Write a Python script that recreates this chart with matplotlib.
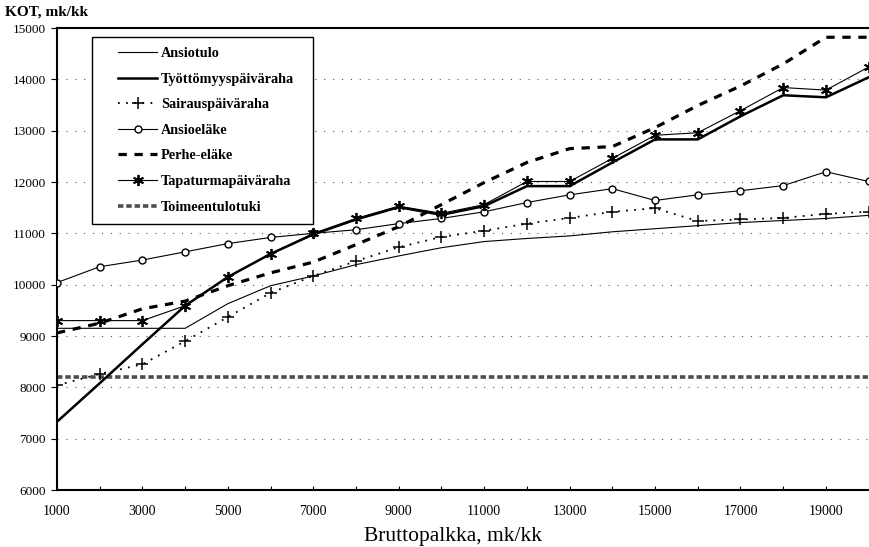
import matplotlib
matplotlib.use("Agg")
import matplotlib.pyplot as plt
from matplotlib.patches import Rectangle

plt.rcParams["font.family"] = ["Liberation Serif", "DejaVu Serif"]

# Gross monthly wage (mk/kk)
brutto = list(range(1000, 21000, 1000))

ansiotulo = [9150, 9150, 9150, 9150, 9630, 9980, 10170, 10390, 10560, 10720,
             10840, 10900, 10950, 11030, 11090, 11150, 11210, 11250, 11290, 11350]
tyottomyys = [7330, 8080, 8840, 9590, 10150, 10600, 10980, 11270, 11510, 11360,
              11530, 11920, 11920, 12380, 12830, 12830, 13280, 13690, 13650, 14040]
sairaus = [8040, 8260, 8450, 8900, 9370, 9840, 10170, 10460, 10730, 10930,
           11050, 11190, 11300, 11420, 11490, 11240, 11270, 11300, 11380, 11420]
ansioelake = [10040, 10350, 10480, 10640, 10800, 10920, 11000, 11070, 11190, 11290,
              11420, 11600, 11750, 11870, 11640, 11750, 11830, 11930, 12200, 12010]
perhe = [9060, 9250, 9530, 9680, 9980, 10230, 10440, 10780, 11130, 11560,
         11990, 12380, 12650, 12690, 13060, 13490, 13870, 14300, 14820, 14820]
tapaturma = [9300, 9300, 9300, 9590, 10150, 10600, 11000, 11290, 11530, 11390,
             11560, 12010, 12010, 12460, 12910, 12960, 13390, 13840, 13790, 14240]
toimeentulo = [8200] * 20

xticks = list(range(1000, 21000, 2000))
yticks = list(range(6000, 16000, 1000))

W, H = 869, 547
fig = plt.figure(figsize=(W / 100, H / 100), dpi=100)
ax = fig.add_axes([0.0656, 0.1042, 0.934, 0.8446])

ax.plot(brutto, toimeentulo, color="#4d4d4d", lw=2.6, ls=(0, (1.5, 0.8)), label="Toimeentulotuki", zorder=2)
ax.plot(brutto, ansiotulo, color="black", lw=0.8, label="Ansiotulo", zorder=3)
ax.plot(brutto, tyottomyys, color="black", lw=1.8, label="Työttömyyspäiväraha", zorder=3)
ax.plot(brutto, sairaus, color="black", lw=1.3, ls=(0, (1, 3.5)), marker="+", ms=8, mew=1.1,
        label="Sairauspäiväraha", zorder=4)
ax.plot(brutto, ansioelake, color="black", lw=0.8, marker="o", ms=5, mfc="white", mew=1.0,
        label="Ansioeläke", zorder=4)
ax.plot(brutto, perhe, color="black", lw=2.3, ls=(0, (2.6, 2.4)), label="Perhe-eläke", zorder=3)
ax.plot(brutto, tapaturma, color="black", lw=0.8, marker=(6, 2, 0), ms=8, mew=1.3,
        label="Tapaturmapäiväraha", zorder=4)

ax.set_xlim(1000, 20000)
ax.set_ylim(6000, 15000)
ax.set_xticks(list(range(1000, 21000, 1000)))
ax.set_xticklabels([str(v) if v in xticks else "" for v in range(1000, 21000, 1000)])
ax.set_yticks(yticks)
ax.tick_params(axis="x", direction="in", length=3, labelsize=10, pad=11)
ax.tick_params(axis="y", direction="out", length=4, labelsize=9.5, pad=4)

ax.yaxis.grid(True, color="#555555", lw=0.8, ls=(0, (1, 7)))
ax.set_axisbelow(True)

ax.spines["right"].set_visible(False)
for s in ["left", "bottom", "top"]:
    ax.spines[s].set_linewidth(1.5)

fig.text(453 / W, 1 - 537 / H, "Bruttopalkka, mk/kk", fontsize=15.5, ha="center", va="center")
fig.text(5 / W, 1 - 12 / H, "KOT, mk/kk", fontsize=11, fontweight="bold", va="center", ha="left")

order = ["Ansiotulo", "Työttömyyspäiväraha", "Sairauspäiväraha", "Ansioeläke",
         "Perhe-eläke", "Tapaturmapäiväraha", "Toimeentulotuki"]
handles, labels = ax.get_legend_handles_labels()
hmap = dict(zip(labels, handles))

# legend frame drawn by hand so the box matches the original proportions
fig.patches.append(Rectangle((92 / W, 1 - 224 / H), 221 / W, 187 / H, transform=fig.transFigure,
                             facecolor="white", edgecolor="black", lw=1.0, zorder=5))
leg = fig.legend([hmap[k] for k in order], order, loc="upper left",
                 bbox_to_anchor=(118 / W, 1 - 47 / H), frameon=False,
                 handlelength=2.75, labelspacing=0.88, borderpad=0.0, borderaxespad=0.0,
                 handletextpad=0.25, prop={"weight": "bold", "size": 10.3})
leg.set_zorder(6)

fig.savefig("out.png", dpi=100)
